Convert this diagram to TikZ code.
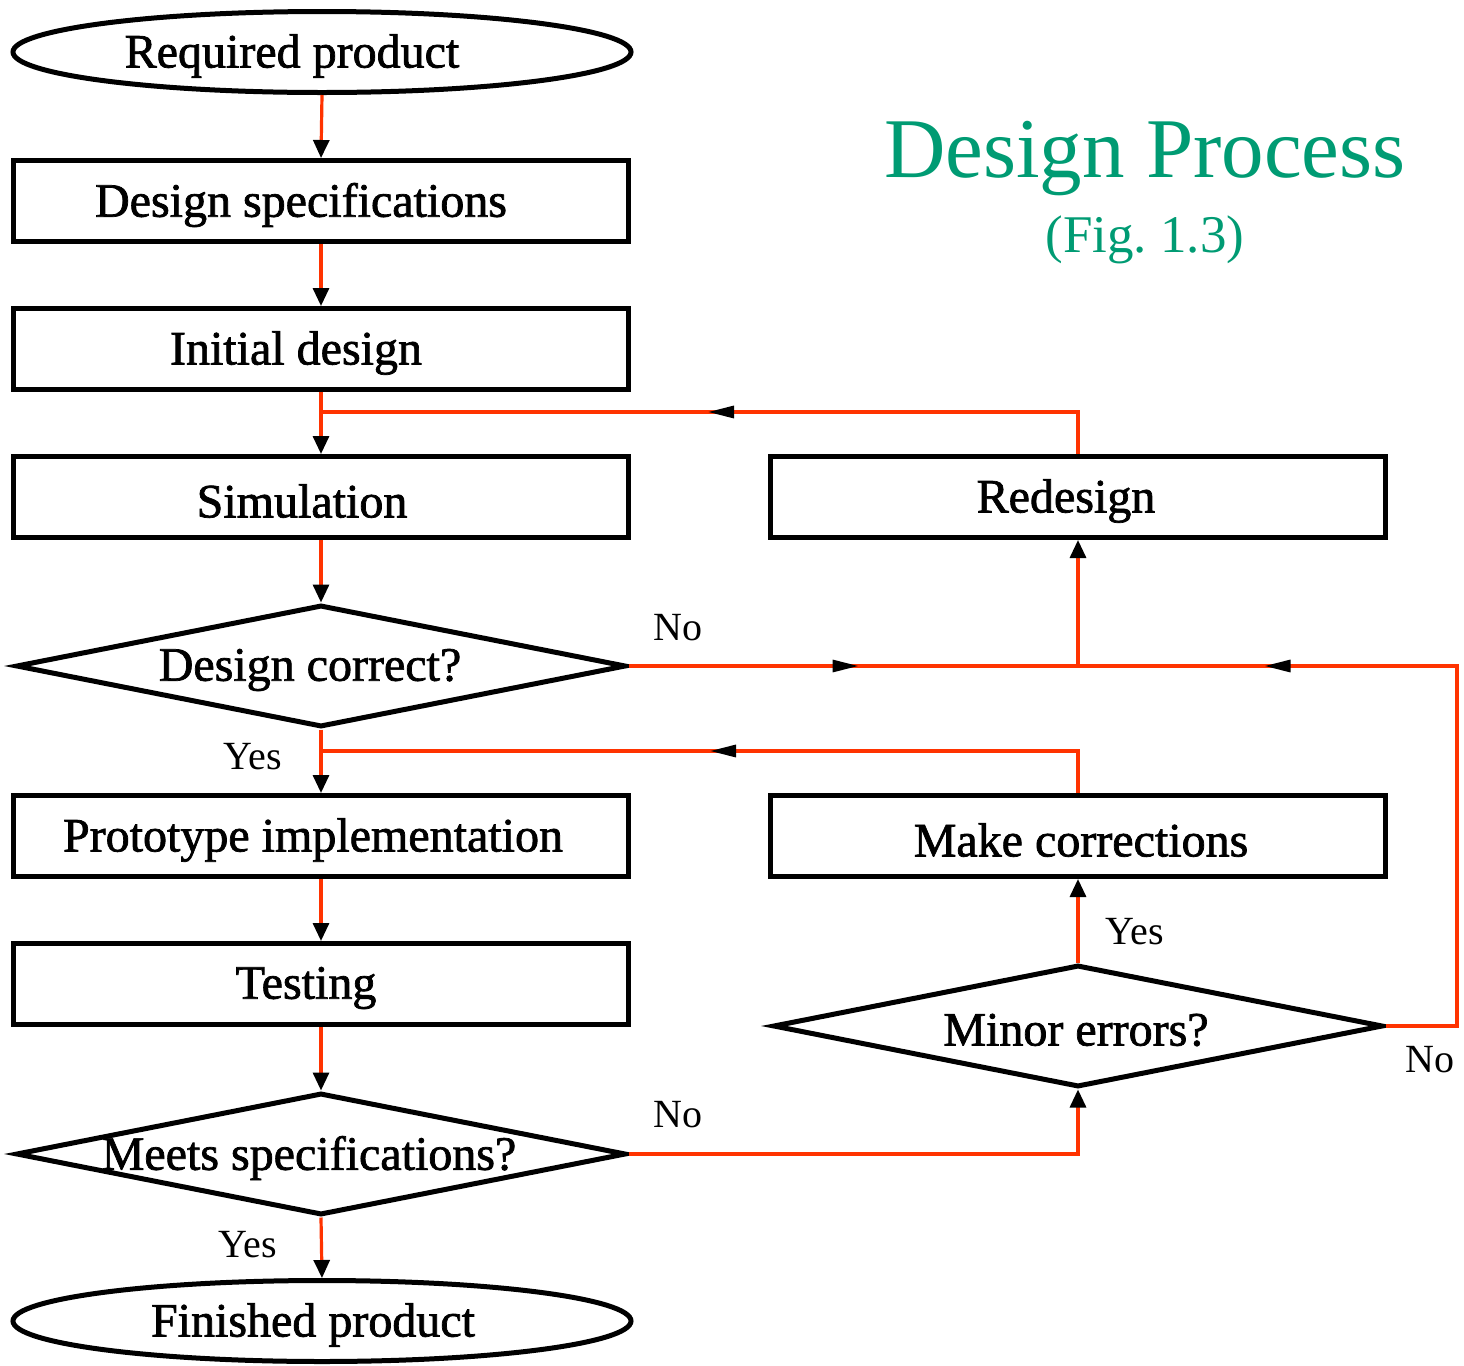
\documentclass[tikz,border=0pt]{standalone}
\usepackage{fontspec}
\setmainfont{Liberation Serif}
\newfontfamily\boxfont{Liberation Serif}[FakeBold=1.5]
\usetikzlibrary{arrows.meta,shapes.geometric,decorations.markings}
\definecolor{flowred}{RGB}{255,51,0}
\definecolor{titlegreen}{RGB}{0,155,115}
\tikzset{
  boxtext/.style={font=\boxfont\fontsize{24}{28}\selectfont, yshift=-2pt},
  % caption text sits in the middle of its shape, nudged sideways by #2
  caption/.style 2 args={label={[boxtext, xshift=#2]center:#1}},
  stepbox/.style={draw=black, line width=2.5pt, rectangle, minimum width=307.5pt,
    minimum height=40.5pt, inner sep=0pt},
  terminal/.style={draw=black, line width=2.5pt, ellipse, minimum width=309pt,
    minimum height=40.5pt, inner sep=0pt},
  decision/.style={draw=black, line width=2.5pt, diamond, minimum width=305pt,
    minimum height=61pt, inner sep=0pt},
  flowline/.style={draw=flowred, line width=1.6pt},
  flow/.style={flowline, -{Triangle[length=9pt,width=8pt,color=black]}},
  answer/.style={font=\fontsize{20}{24}\selectfont},
  midtip/.tip={Triangle[length=13pt,width=6pt,color=black]},
  midarrow/.style={postaction={decorate},
    decoration={markings, mark=at position #1 with {\arrow{midtip}}}},
}
\begin{document}
\begin{tikzpicture}[x=0.5pt, y=-0.5pt]
\useasboundingbox (0,0) rectangle (1464,1366);

% main column
\node[terminal, caption={Required product}{-15pt}] (req) at (322,52) {};
\node[stepbox, caption={Design specifications}{-10pt}] (spec) at (321,201) {};
\node[stepbox, caption={Initial design}{-12.5pt}] (init) at (321,349) {};
\node[stepbox, caption={Simulation}{-9.5pt}] (sim) at (321,497) {};
\node[decision, caption={Design correct?}{-5.5pt}] (correct) at (321,666) {};
\node[stepbox, caption={Prototype implementation}{-4pt}] (proto) at (321,836) {};
\node[stepbox, caption={Testing}{-7.5pt}] (test) at (321,984) {};
\node[decision, caption={Meets specifications?}{-6pt}] (meets) at (321,1154) {};
\node[terminal, caption={Finished product}{-4.5pt}] (fin) at (322,1321) {};

% correction column
\node[stepbox, caption={Redesign}{-6pt}] (redesign) at (1078,497) {};
\node[stepbox, caption={Make corrections}{1.5pt}] (fix) at (1078,836) {};
\node[decision, caption={Minor errors?}{-1pt}] (minor) at (1078,1026) {};

% title
\node[anchor=base, text=titlegreen, font=\fontsize{42.5}{50}\selectfont] (title) at (1145,177) {Design Process};
\node[anchor=base, text=titlegreen, font=\fontsize{26.5}{32}\selectfont] (fig) at (1145,252) {(Fig.~1.3)};

% junction points
\coordinate (jA) at (321,412);
\coordinate (jB) at (321,751);
\coordinate (jR) at (1078,666);
\coordinate (rail) at (1457,666);

% main flow
\draw[flow] (req.south) -- (spec.north);
\draw[flow] (spec.south) -- (init.north);
\draw[flow] (init.south) -- (sim.north);
\draw[flow] (sim.south) -- (correct.north);
\draw[flow] (correct.south) -- (proto.north);
\draw[flow] (proto.south) -- (test.north);
\draw[flow] (test.south) -- (meets.north);
\draw[flow] (meets.south) -- (fin.north);

% loops back
\draw[flowline, midarrow=206pt] (redesign.north) |- (jA);
\draw[flow, midarrow=115pt] (correct.east) -| (redesign.south);
\draw[flowline, midarrow=312pt] (minor.east) -| (rail) -- (jR);
\draw[flowline, midarrow=205pt] (fix.north) |- (jB);
\draw[flow] (meets.east) -| (minor.south);
\draw[flow] (minor.north) -- (fix.south);

% answers
\node[answer] (no1) at (678,628) {No};
\node[answer] (yes1) at (253,757) {Yes};
\node[answer] (no2) at (678,1115) {No};
\node[answer] (yes2) at (248,1245) {Yes};
\node[answer] (yes3) at (1135,932) {Yes};
\node[answer] (no3) at (1430,1060) {No};
\end{tikzpicture}
\end{document}
